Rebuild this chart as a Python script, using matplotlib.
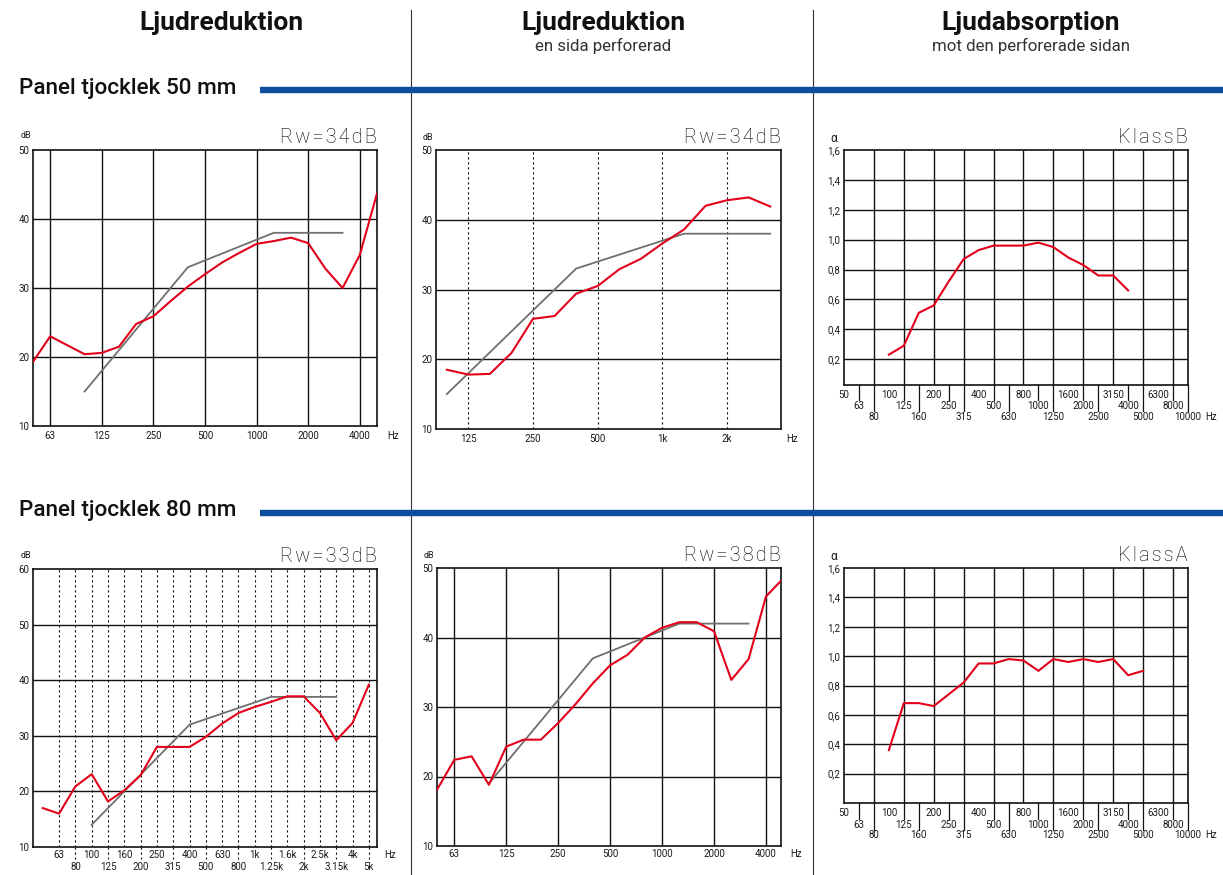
import numpy as np
import matplotlib
matplotlib.use('Agg')
import matplotlib.pyplot as plt
from matplotlib.lines import Line2D

plt.rcParams['font.family'] = ['Roboto', 'DejaVu Sans']

# third-octave band centres, each plotted at its index
bands = [50, 63, 80, 100, 125, 160, 200, 250, 315, 400, 500, 630, 800,
         1000, 1250, 1600, 2000, 2500, 3150, 4000, 5000, 6300, 8000, 10000]

# 50 mm panel
red_50 = [19.3, 23.0, 21.7, 20.4, 20.6, 21.5, 24.8, 25.9, 28.1, 30.2, 32.0,
          33.7, 35.1, 36.4, 36.8, 37.3, 36.5, 32.8, 30.0, 34.8, 43.7]        # 50..5000
ref_50 = [15, 18, 21, 24, 27, 30, 33, 34, 35, 36, 37, 38, 38, 38, 38, 38]   # 100..3150
red_50_perf = [18.5, 17.8, 17.9, 20.9, 25.8, 26.2, 29.4, 30.5, 32.9, 34.4,
               36.6, 38.6, 42.0, 42.8, 43.2, 41.9]                          # 100..3150
alpha_50 = [0.23, 0.29, 0.51, 0.56, 0.72, 0.87, 0.93, 0.96, 0.96, 0.96,
            0.98, 0.95, 0.88, 0.83, 0.76, 0.76, 0.66]                       # 100..4000

# 80 mm panel
red_80 = [17.0, 16.0, 20.9, 23.1, 18.2, 20.2, 22.9, 28.0, 28.0, 28.0, 29.8,
          32.2, 34.1, 35.2, 36.1, 37.1, 37.1, 34.1, 29.2, 32.3, 39.2]        # 50..5000
ref_80 = [14, 17, 20, 23, 26, 29, 32, 33, 34, 35, 36, 37, 37, 37, 37, 37]   # 100..3150
red_80_perf = [18.1, 22.4, 22.9, 18.8, 24.3, 25.3, 25.3, 27.7, 30.4, 33.4,
               36.0, 37.5, 40.0, 41.4, 42.2, 42.2, 40.9, 33.9, 36.9, 45.9, 48.5]  # 50..5000
ref_80_perf = [19, 22, 25, 28, 31, 34, 37, 38, 39, 40, 41, 42, 42, 42, 42, 42]    # 100..3150
alpha_80 = [0.36, 0.68, 0.68, 0.66, 0.74, 0.82, 0.95, 0.95, 0.98, 0.97,
            0.90, 0.98, 0.96, 0.98, 0.96, 0.98, 0.87, 0.90]                 # 100..5000

rw_labels = ['Rw=34dB', 'Rw=34dB', 'Rw=33dB', 'Rw=38dB']
class_labels = ['KlassB', 'KlassA']
octave_labels = ['63', '125', '250', '500', '1000', '2000', '4000']
octave_labels_k = ['125', '250', '500', '1k', '2k']
third_labels_k = ['50', '63', '80', '100', '125', '160', '200', '250', '315', '400',
                  '500', '630', '800', '1k', '1.25k', '1.6k', '2k', '2.5k', '3.15k',
                  '4k', '5k']

RED = '#e2001a'
GREY = '#6f6f6f'
INK = '#1a1a1a'
BLUE = '#0b4f9c'

W, H = 1223, 875
PX = 0.72   # points per pixel at 100 dpi
fig = plt.figure(figsize=(W / 100, H / 100), dpi=100)


def axes_px(l, t, r, b):
    return fig.add_axes([l / W, 1 - b / H, (r - l) / W, (b - t) / H])


def pos(f0, vals):
    i0 = bands.index(f0)
    return np.arange(i0, i0 + len(vals))


def under(ax, x, text, dy):
    ax.annotate(text, xy=(x, 0), xycoords=('data', 'axes fraction'),
                xytext=(0, -dy * PX), textcoords='offset points',
                ha='center', va='center', fontsize=7, color=INK)


def frame(ax, unit, unit_dx, unit_dy, title, hz_dx, hz_dy, unit_size=6.5):
    for s in ax.spines.values():
        s.set_linewidth(1.2)
        s.set_color('#111')
    ax.set_xticks([])
    ax.tick_params(axis='y', length=0, pad=2.5, labelsize=7, labelcolor=INK)
    ax.annotate(unit, xy=(0, 1), xycoords='axes fraction',
                xytext=(unit_dx * PX, unit_dy * PX), textcoords='offset points',
                ha='center', va='center', fontsize=unit_size, color=INK)
    ax.annotate('\u200a'.join(title), xy=(1, 1), xycoords='axes fraction',
                xytext=(0, 2), textcoords='offset points', ha='right', va='bottom',
                fontsize=14.5, fontweight='light', color='#000000')
    ax.annotate('Hz', xy=(1, 0), xycoords='axes fraction',
                xytext=(hz_dx * PX, -hz_dy * PX), textcoords='offset points',
                ha='center', va='center', fontsize=7, color=INK)


def db_panel(ax, xlim, ylim, red_f0, red, ref, vgrid, vstyle):
    ax.set_xlim(*xlim)
    ax.set_ylim(*ylim)
    ax.set_yticks(np.arange(ylim[0], ylim[1] + 1, 10))
    for y in np.arange(ylim[0] + 10, ylim[1], 10):
        ax.axhline(y, color='#111', lw=1.0, zorder=1)
    for x in vgrid:
        ax.axvline(x, color='#111', lw=1.0 if vstyle == '-' else 0.8,
                   ls=vstyle, zorder=1)
    ax.plot(pos(100, ref), ref, color=GREY, lw=1.3, zorder=2)
    ax.plot(pos(red_f0, red), red, color=RED, lw=1.5, zorder=3)


dotted = (0, (2, 2.5))
octave_idx = [bands.index(f) for f in [63, 125, 250, 500, 1000, 2000, 4000]]

# --- top left: 50 mm, ljudreduktion
ax1 = axes_px(33, 150, 377, 426)
db_panel(ax1, (0, 20), (10, 50), 50, red_50, ref_50, octave_idx, '-')
frame(ax1, 'dB', -7, 14, rw_labels[0], 16, 9.7)
for x, lab in zip(octave_idx, octave_labels):
    under(ax1, x, lab, 9.7)

# --- top middle: 50 mm, one side perforated
ax2 = axes_px(436, 150, 781, 429)
db_panel(ax2, (2.5, 18.5), (10, 50), 100, red_50_perf, ref_50, octave_idx[1:6], dotted)
frame(ax2, 'dB', -8, 13, rw_labels[1], 11, 9.7)
for x, lab in zip(octave_idx[1:6], octave_labels_k):
    under(ax2, x, lab, 9.7)

# --- bottom left: 80 mm, ljudreduktion
ax4 = axes_px(33, 569, 377, 847)
third_idx = list(range(1, 21))
db_panel(ax4, (-0.6, 20.5), (10, 60), 50, red_80, ref_80, third_idx, dotted)
frame(ax4, 'dB', -7, 14, rw_labels[2], 13, 8.3)
for x in third_idx:
    if x % 2 == 1:
        under(ax4, x, third_labels_k[x], 8.3)
    else:
        under(ax4, x, third_labels_k[x], 20)
        ax4.plot([x, x], [0, -12 / 278], transform=ax4.get_xaxis_transform(),
                 color='#111', lw=0.8, ls=dotted, clip_on=False)

# --- bottom middle: 80 mm, one side perforated
ax5 = axes_px(437, 568, 781, 846)
db_panel(ax5, (0, 19.87), (10, 50), 50, red_80_perf, ref_80_perf, octave_idx, '-')
frame(ax5, 'dB', -8, 13, rw_labels[3], 15, 8.3)
for x, lab in zip(octave_idx, octave_labels):
    under(ax5, x, lab, 8.3)


# --- absorption panels
def alpha_panel(ax, ylim, alpha, title):
    ax.set_xlim(0, 23)
    ax.set_ylim(*ylim)
    ticks = np.arange(1, 9) * 0.2
    ax.set_yticks(ticks)
    ax.set_yticklabels([f'{t:.1f}'.replace('.', ',') for t in ticks])
    for y in ticks[:-1]:
        ax.axhline(y, color='#111', lw=1.0, zorder=1)
    for x in range(2, 23, 2):
        ax.axvline(x, color='#111', lw=1.0, zorder=1)
    ax.plot(pos(100, alpha), alpha, color=RED, lw=1.5, zorder=3)
    frame(ax, '\u03b1', -10, 12, title, 23, 32.5, unit_size=8.5)
    hpx = ax.get_position().height * H
    for i, f in enumerate(bands):
        row = i % 3
        under(ax, i, str(f), [10.5, 21.5, 32.5][row])
        if row:
            ax.plot([i, i], [0, -[0, 15.5, 26.5][row] / hpx],
                    transform=ax.get_xaxis_transform(), color='#111', lw=0.9,
                    clip_on=False)


ax3 = axes_px(844, 150, 1188, 385)
alpha_panel(ax3, (0.027, 1.6), alpha_50, class_labels[0])
ax6 = axes_px(844, 568, 1188, 803)
alpha_panel(ax6, (0, 1.6), alpha_80, class_labels[1])

# --- headers, separators, section bars
for x, head, sub in [(221, 'Ljudreduktion', None),
                     (603, 'Ljudreduktion', 'en sida perforerad'),
                     (1031, 'Ljudabsorption', 'mot den perforerade sidan')]:
    fig.text(x / W, 1 - 30 / H, head, ha='center', va='baseline',
             fontsize=19, fontweight='bold', color='#111')
    if sub:
        fig.text(x / W, 1 - 51 / H, sub, ha='center', va='baseline',
                 fontsize=12.2, fontweight='normal', color='#333333')

for x in [410.5, 812.5]:
    fig.add_artist(Line2D([x / W, x / W], [1 - 10 / H, 0], color='#333', lw=0.8))

for y_txt, y_bar, label in [(94, 89.5, 'Panel tjocklek 50 mm'),
                            (516, 513, 'Panel tjocklek 80 mm')]:
    fig.text(19 / W, 1 - y_txt / H, label, ha='left', va='baseline',
             fontsize=16.2, fontweight='medium', color='#111')
    fig.add_artist(Line2D([260 / W, 1], [1 - y_bar / H] * 2, color=BLUE, lw=4.6,
                          solid_capstyle='butt'))

fig.savefig('out.png', dpi=100)
